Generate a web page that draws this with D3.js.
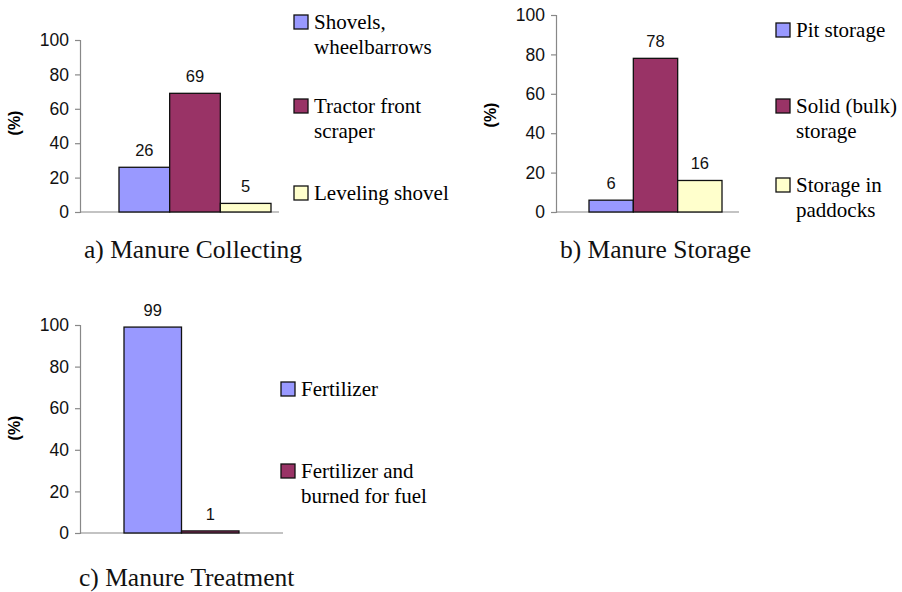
<!DOCTYPE html>
<html lang="en">
<head>
    <meta charset="UTF-8">
    <title>manure</title>
    <script src="https://d3js.org/d3.v7.min.js"></script>
</head>
<body style="margin:0">
<script>
    const width = 902
    const height = 592
    const serif = "Liberation Serif"
    const sans = "Liberation Sans"

    // data
    const yTicks = [0, 20, 40, 60, 80, 100]
    const collectCategories = ['Shovels,\nwheelbarrows', 'Tractor front\nscraper', 'Leveling shovel']
    const collectValues = [26, 69, 5]
    const storageCategories = ['Pit storage', 'Solid (bulk)\nstorage', 'Storage in\npaddocks']
    const storageValues = [6, 78, 16]
    const treatCategories = ['Fertilizer', 'Fertilizer and\nburned for fuel']
    const treatValues = [99, 1]
    const titles = ['a) Manure Collecting', 'b) Manure Storage', 'c) Manure Treatment']
    const colors = ['#9999ff', '#993366', '#ffffcc']

    // layout of each panel
    const panels = [
        {cats: collectCategories, vals: collectValues, title: titles[0],
            axisX: 80, axisEnd: 279, y0: 212, y100: 40, bars: [119, 271],
            pctY: 123, titleX: 84, titleY: 258,
            legX: 294, legY: [29, 113, 200]},
        {cats: storageCategories, vals: storageValues, title: titles[1],
            axisX: 556, axisEnd: 739, y0: 212, y100: 15, bars: [589, 722],
            pctY: 115, titleX: 560, titleY: 258,
            legX: 776, legY: [37, 113, 192]},
        {cats: treatCategories, vals: treatValues, title: titles[2],
            axisX: 80, axisEnd: 283, y0: 533, y100: 325, bars: [124, 239],
            pctY: 428, titleX: 79, titleY: 586,
            legX: 281, legY: [396, 478]}
    ]

    var svg = d3.select("body")
        .append("svg")
        .attr("width", width)
        .attr("height", height)

    // legend text first, straight on the svg
    panels.forEach(function (p) {
        p.cats.forEach(function (c, i) {
            c.split("\n").forEach(function (row, k) {
                svg.append("text")
                    .text(row)
                    .attr("x", p.legX + 20)
                    .attr("y", p.legY[i] + k * 25)
                    .attr("font-family", serif)
                    .attr("font-size", 21)
            })
        })
    })

    panels.forEach(function (p) {
        var g = svg.append("g")
        var yScale = d3.scaleLinear()
            .domain([0, 100])
            .range([p.y0, p.y100])
        var xScale = d3.scaleBand()
            .domain(p.cats)
            .range(p.bars)
            .paddingInner(0)

        // y axis
        var yAxis = d3.axisLeft(yScale)
            .tickValues(yTicks)
            .tickSize(5)
            .tickPadding(6)
        var ax = g.append("g")
            .attr("transform", "translate(" + p.axisX + ",0)")
            .call(yAxis)
            .attr("font-family", sans)
            .attr("font-size", 17.5)
        ax.select(".domain").attr("stroke", "#888").attr("stroke-width", 1.2)
        ax.selectAll(".tick line").attr("stroke", "#888").attr("stroke-width", 1.2)
        ax.selectAll(".tick text").attr("fill", "#111")

        // baseline
        g.append("line")
            .attr("x1", p.axisX)
            .attr("x2", p.axisEnd)
            .attr("y1", yScale(0))
            .attr("y2", yScale(0))
            .attr("stroke", "#888")
            .attr("stroke-width", 1.2)

        // (%) label
        g.append("text")
            .text("(%)")
            .attr("transform", "translate(" + (p.axisX - 60) + "," + p.pctY + ") rotate(-90)")
            .attr("text-anchor", "middle")
            .attr("font-family", sans)
            .attr("font-weight", "bold")
            .attr("font-size", 16)

        // bars
        g.selectAll("rect.bar")
            .data(p.vals)
            .enter()
            .append("rect")
            .attr("class", "bar")
            .attr("x", function (d, i) { return xScale(p.cats[i]) })
            .attr("width", xScale.bandwidth())
            .attr("y", function (d) { return yScale(d) })
            .attr("height", function (d) { return yScale(0) - yScale(d) })
            .attr("fill", function (d, i) { return colors[i] })
            .attr("stroke", "#111")
            .attr("stroke-width", 1.3)

        // value labels
        g.selectAll("text.val")
            .data(p.vals)
            .enter()
            .append("text")
            .attr("class", "val")
            .text(function (d) { return d })
            .attr("x", function (d, i) { return xScale(p.cats[i]) + xScale.bandwidth() / 2 })
            .attr("y", function (d) { return yScale(d) - 11 })
            .attr("text-anchor", "middle")
            .attr("font-family", sans)
            .attr("font-size", 16.5)
            .attr("fill", "#111")

        // legend boxes
        g.selectAll("rect.key")
            .data(p.cats)
            .enter()
            .append("rect")
            .attr("class", "key")
            .attr("x", p.legX)
            .attr("y", function (d, i) { return p.legY[i] - 14 })
            .attr("width", 14)
            .attr("height", 14)
            .attr("fill", function (d, i) { return colors[i] })
            .attr("stroke", "#111")
            .attr("stroke-width", 1.3)

        // panel title
        g.append("text")
            .text(p.title)
            .attr("x", p.titleX)
            .attr("y", p.titleY)
            .attr("font-family", serif)
            .attr("font-size", 25.5)
            .attr("fill", "#111")
    })
</script>
</body>
</html>
